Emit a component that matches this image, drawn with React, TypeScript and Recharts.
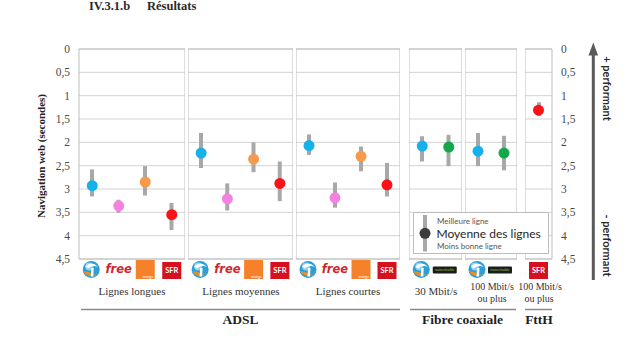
import { ComposedChart, Bar, Scatter, XAxis, YAxis, CartesianGrid, ReferenceArea } from 'recharts';

// navigation web time in seconds: mean, best line, worst line
const yTicks = [0, 0.5, 1, 1.5, 2, 2.5, 3, 3.5, 4, 4.5];

const adslOperators = ['bouygues', 'free', 'orange', 'sfr'];
const coaxOperators = ['bouygues', 'numericable'];
const ftthOperators = ['sfr'];

const longuesMean = [2.93, 3.36, 2.85, 3.55];
const longuesBest = [2.58, 3.23, 2.51, 3.3];
const longuesWorst = [3.16, 3.51, 3.14, 3.88];

const moyennesMean = [2.23, 3.21, 2.36, 2.88];
const moyennesBest = [1.8, 2.88, 2.0, 2.41];
const moyennesWorst = [2.55, 3.46, 2.64, 3.26];

const courtesMean = [2.07, 3.19, 2.3, 2.91];
const courtesBest = [1.83, 2.86, 2.09, 2.44];
const courtesWorst = [2.27, 3.4, 2.62, 3.16];

const coax30Mean = [2.08, 2.1];
const coax30Best = [1.87, 1.84];
const coax30Worst = [2.41, 2.51];

const coax100Mean = [2.19, 2.23];
const coax100Best = [1.8, 1.86];
const coax100Worst = [2.51, 2.6];

const ftthMean = [1.31];
const ftthBest = [1.14];
const ftthWorst = [1.43];

const operatorColors: Record<string, string> = {
  bouygues: '#16b0ec',
  free: '#f582e0',
  orange: '#f69a4c',
  sfr: '#fb1216',
  numericable: '#13a84a',
};

const serif = '"Liberation Serif", "DejaVu Serif", serif';
const sans = 'Lato, "Open Sans", sans-serif';

function buildRows(ops: string[], mean: number[], best: number[], worst: number[]) {
  return ops.map((op, i) => ({ op, mean: mean[i], range: [best[i], worst[i]] }));
}

function OperatorLogo(props: any) {
  const { x, y, payload } = props;
  const top = y + 1;
  switch (payload.value) {
    case 'bouygues':
      return (
        <g transform={`translate(${x - 1},${top + 9.5})`}>
          <circle r={8.5} fill="#2a9fd8" />
          <circle cx={-2} cy={-3} r={4} fill="#8fd3f2" />
          <path d="M-8.3,1.5 Q-3,9.5 6.5,5 Q1,6 -2.5,2.5 Z" fill="#f08c1e" />
          <path d="M-6,-3 Q0,-9 7,-2.5 Q1,-5 -3,-1 Z" fill="#ffffff" />
          <path d="M0,-1.5 L2.5,-1.5 L2,7 L-0.5,7 Z" fill="#ffffff" />
        </g>
      );
    case 'free':
      return (
        <text x={x} y={top + 13} textAnchor="middle" fill="#d0262b"
          style={{ fontFamily: '"DejaVu Sans", sans-serif', fontStyle: 'italic', fontWeight: 'bold', fontSize: 11.5 }}>free</text>
      );
    case 'orange':
      return (
        <g>
          <rect x={x - 9.5} y={top} width={19} height={19} fill="#f5822a" />
          <text x={x + 8} y={top + 17.5} textAnchor="end" fill="#ffffff" style={{ fontFamily: sans, fontSize: 3.5 }}>orange</text>
        </g>
      );
    case 'sfr':
      return (
        <g>
          <rect x={x - 9.5} y={top + 2} width={19} height={17} fill="#d5101f" />
          <text x={x} y={top + 13} textAnchor="middle" fill="#ffffff" style={{ fontFamily: sans, fontWeight: 'bold', fontSize: 7.5 }}>SFR</text>
        </g>
      );
    case 'numericable':
      return (
        <g>
          <rect x={x - 16} y={top + 6.5} width={24} height={7} rx={1} fill="#1c1c1c" />
          <text x={x - 4} y={top + 11.2} textAnchor="middle" fill="#8dc63f" style={{ fontFamily: sans, fontSize: 3.6 }}>numericable</text>
        </g>
      );
    default:
      return null;
  }
}

function MeanDot(props: any) {
  const { cx, cy, payload } = props;
  return <circle cx={cx} cy={cy} r={5.5} fill={operatorColors[payload.op]} />;
}

interface PanelProps {
  rows: { op: string; mean: number; range: number[] }[];
  left: number;
  width: number;
  axis: 'left' | 'right' | 'none';
}

function Panel({ rows, left, width, axis }: PanelProps) {
  const axisWidth = axis === 'left' ? 79 : axis === 'right' ? 30 : 0;
  return (
    <div style={{ position: 'absolute', left, top: 0 }}>
      <ComposedChart width={width + axisWidth} height={290} data={rows}
        margin={{ top: 49, right: 0, bottom: 0, left: 0 }}>
        <CartesianGrid vertical={false} stroke="#d3d3d3" />
        <ReferenceArea y1={0} y2={4.5} fill="none" stroke="#bdbdbd" ifOverflow="visible" />
        <XAxis dataKey="op" type="category" interval={0} tickLine={false} axisLine={false}
          height={31} tickSize={0} tickMargin={0} tick={<OperatorLogo />} />
        <YAxis type="number" domain={[0, 4.5]} reversed ticks={yTicks} interval={0}
          hide={axis === 'none'} orientation={axis === 'right' ? 'right' : 'left'} width={axisWidth}
          axisLine={false} tickLine={false} tickSize={0} tickMargin={9}
          tickFormatter={(v: number) => String(v).replace('.', ',')}
          tick={{ fontSize: 11.5, fill: '#4a4a4a', fontFamily: serif }} />
        <Bar dataKey="range" barSize={4} fill="#a8a8a8" isAnimationActive={false} />
        <Scatter dataKey="mean" shape={MeanDot} isAnimationActive={false} />
      </ComposedChart>
    </div>
  );
}

const serifText = (size: number, bold = false) => ({ fontFamily: serif, fontSize: size, fontWeight: bold ? 'bold' : 'normal' });
const sansText = (size: number, bold = false) => ({ fontFamily: sans, fontSize: size, fontWeight: bold ? 'bold' : 'normal' });

export default function App() {
  return (
    <div style={{ position: 'fixed', left: 0, top: 0, width: 632, height: 356, background: '#fff', overflow: 'hidden' }}>
      <Panel rows={buildRows(adslOperators, longuesMean, longuesBest, longuesWorst)} left={0} width={106} axis="left" />
      <Panel rows={buildRows(adslOperators, moyennesMean, moyennesBest, moyennesWorst)} left={188} width={105} axis="none" />
      <Panel rows={buildRows(adslOperators, courtesMean, courtesBest, courtesWorst)} left={296} width={104} axis="none" />
      <Panel rows={buildRows(coaxOperators, coax30Mean, coax30Best, coax30Worst)} left={409} width={53} axis="none" />
      <Panel rows={buildRows(coaxOperators, coax100Mean, coax100Best, coax100Worst)} left={465} width={52} axis="none" />
      <Panel rows={buildRows(ftthOperators, ftthMean, ftthBest, ftthWorst)} left={525} width={27} axis="right" />

      <svg width={632} height={356} style={{ position: 'absolute', left: 0, top: 0, pointerEvents: 'none' }}>
        <text x={89} y={9.5} fill="#2b2b2b" style={serifText(12.5, true)}>IV.3.1.b</text>
        <text x={147} y={9.5} fill="#2b2b2b" style={serifText(12.5, true)}>Résultats</text>

        <text transform="translate(45,156) rotate(-90)" textAnchor="middle" fill="#222"
          style={serifText(11, true)}>Navigation web (secondes)</text>

        <text x={132} y={295} textAnchor="middle" fill="#333" style={serifText(11)}>Lignes longues</text>
        <text x={241} y={295} textAnchor="middle" fill="#333" style={serifText(11)}>Lignes moyennes</text>
        <text x={348} y={295} textAnchor="middle" fill="#333" style={serifText(11)}>Lignes courtes</text>
        <text x={436} y={295} textAnchor="middle" fill="#333" style={serifText(11)}>30 Mbit/s</text>
        <text x={492} y={289.5} textAnchor="middle" fill="#333" style={serifText(10)}>100 Mbit/s</text>
        <text x={492} y={301.5} textAnchor="middle" fill="#333" style={serifText(10)}>ou plus</text>
        <text x={540} y={289.5} textAnchor="middle" fill="#333" style={serifText(10)}>100 Mbit/s</text>
        <text x={539} y={301.5} textAnchor="middle" fill="#333" style={serifText(10)}>ou plus</text>

        <g stroke="#8a8a8a" strokeWidth={1.5}>
          <line x1={81} y1={309.5} x2={400} y2={309.5} />
          <line x1={410} y1={309.5} x2={516} y2={309.5} />
          <line x1={525} y1={309.5} x2={552} y2={309.5} />
        </g>
        <text x={240.5} y={324} textAnchor="middle" fill="#1f1f1f" style={serifText(13.5, true)}>ADSL</text>
        <text x={462.5} y={323.5} textAnchor="middle" fill="#1f1f1f" style={serifText(13.5, true)}>Fibre coaxiale</text>
        <text x={539} y={323.5} textAnchor="middle" fill="#1f1f1f" style={serifText(13.5, true)}>FttH</text>

        <line x1={593.3} y1={54} x2={593.3} y2={280} stroke="#5a5a5a" strokeWidth={3} />
        <polygon points="593.3,42.5 588.5,55.5 598.1,55.5" fill="#5a5a5a" />
        <text transform="translate(603,88.5) rotate(90)" textAnchor="middle" fill="#2a2a2a" style={sansText(11, true)}>+ performant</text>
        <text transform="translate(603,245.5) rotate(90)" textAnchor="middle" fill="#2a2a2a" style={sansText(11, true)}>- performant</text>

        <rect x={413.5} y={212.5} width={135} height={41} fill="#fff" stroke="#bdbdbd" />
        <rect x={423} y={215} width={4} height={36.5} fill="#a8a8a8" />
        <circle cx={425} cy={233.3} r={5.5} fill="#3c3c3c" />
        <text x={437} y={224.3} fill="#555" style={sansText(8)}>Meilleure ligne</text>
        <text x={436.5} y={237.8} fill="#262626" style={sansText(12)}>Moyenne des lignes</text>
        <text x={437} y={248.8} fill="#555" style={sansText(8)}>Moins bonne ligne</text>
      </svg>
    </div>
  );
}
